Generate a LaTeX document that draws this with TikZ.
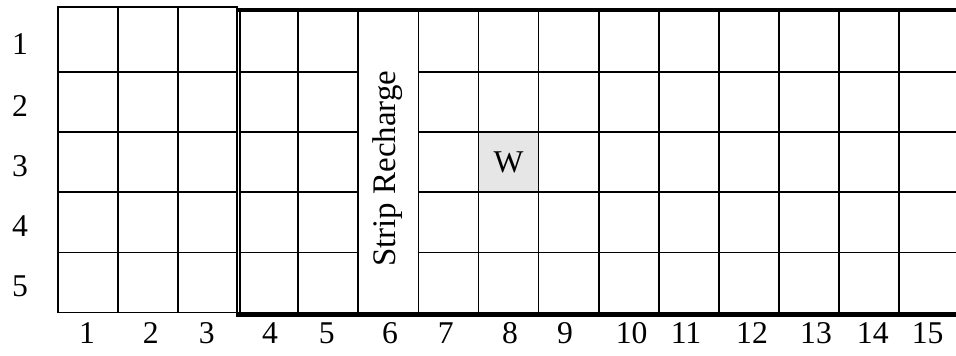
\documentclass[tikz,border=0pt]{standalone}
\usepackage{fontspec}
\setmainfont{Liberation Serif}
\usetikzlibrary{positioning}
\definecolor{wellgray}{RGB}{230,230,230}
\tikzset{
    cell line/.style={
        line width=0.85pt,
        black
    },
    edge top/.style={
        line width=1.9pt,
        black
    },
    edge bottom/.style={
        line width=2.6pt,
        black
    },
    axis label/.style={
        font=\fontsize{15}{17}\selectfont,
        inner sep=0pt,
        anchor=base
    },
    strip label/.style={
        font=\fontsize{15.6}{18}\selectfont,
        rotate=90,
        inner sep=0pt
    }
}

\begin{document}
\begin{tikzpicture}
    \useasboundingbox (-0.9655,-0.724) rectangle (14.949,5.202);
    \coordinate (L0) at (0,0);
    \coordinate (L1) at (2.98,5.091);
    \coordinate (R0) at (3.025,0);
    \coordinate (R1) at (3.025,5);
    \coordinate (E0) at (2.965,0);
    \coordinate (E1) at (14.949,0);
    % well cell
    \fill[wellgray] (7,2) rectangle (8,3);
    % columns 1-3
    \draw[cell line] (L0) rectangle (L1);
    \foreach \x in {1,2}
        \draw[cell line] (\x,0) -- (\x,5.091);
    \foreach \y in {1,...,4}
        \draw[cell line] (0,\y) -- (2.98,\y);
    % columns 4-15
    \draw[cell line] (R0) -- (R1);
    \foreach \x in {4,...,14}
        \draw[cell line] (\x,0) -- (\x,5);
    \foreach \y in {1,...,4} {
        \draw[cell line] (3.025,\y) -- (5,\y);
        \draw[cell line] (6,\y) -- (14.949,\y);
    }
    \draw[edge top] ([yshift=5.031cm]E0) -- ([yshift=5.031cm]E1);
    \draw[edge bottom] ([yshift=-0.033cm]E0) -- ([yshift=-0.033cm]E1);
    % labels
    \node[axis label] (well) at (7.5,2.33) {W};
    \node[strip label] (strip) at (5.49,2.394) {Strip Recharge};
    \foreach \n/\y in {1/4.298,2/3.259,3/2.256,4/1.265,5/0.273}
        \node[axis label] (row\n) at (-0.633,\y) {\n};
    \foreach \n/\x in {1/0.483,2/1.545,3/2.475,4/3.529,5/4.473,6/5.527,7/6.456,8/7.525,
                       9/8.440,10/9.551,11/10.455,12/11.553,13/12.619,14/13.563,15/14.478}
        \node[axis label] (col\n) at (\x,-0.513) {\n};
\end{tikzpicture}
\end{document}
